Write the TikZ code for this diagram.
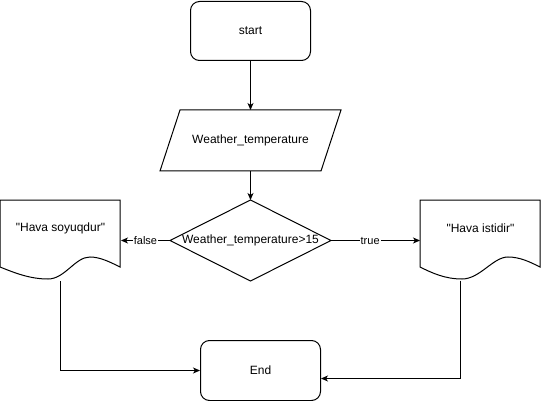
\documentclass[tikz,border=0pt]{standalone}
\usepackage{fontspec}
\setmainfont{Liberation Sans}
\newfontfamily\plainsans{Liberation Sans}
\usetikzlibrary{arrows.meta,calc}
\begin{document}
\begin{tikzpicture}[x=1pt,y=-1pt,line width=1pt,
  >={Stealth[length=7pt,width=6pt,inset=2pt]},
  txt/.style={font=\plainsans\fontsize{12}{14}\selectfont},
  term/.style={draw,rounded corners=9pt,minimum width=120pt,minimum height=59pt,inner sep=0pt,txt},
  box/.style={inner sep=0pt,minimum width=#1},
  lbl/.style={fill=white,inner sep=1pt,font=\plainsans\fontsize{11}{13}\selectfont},
  doc/.style={inner sep=0pt,minimum width=120pt,minimum height=80pt}]
\useasboundingbox (0,0) rectangle (541,401);

\node[term] (start) at (250.5,31) {start};

\node[box=180pt,minimum height=60pt,txt] (inp) at (250.5,140.5) {Weather\_temperature};
\draw ($(inp.north west)+(20,0)$) -- (inp.north east) -- ($(inp.south east)+(-20,0)$) -- (inp.south west) -- cycle;

\node[box=160pt,minimum height=80pt,txt] (dec) at (250.5,240.5) {Weather\_temperature>15};
\draw (dec.north) -- (dec.east) -- (dec.south) -- (dec.west) -- cycle;

\node[doc] (ldoc) at (60.5,240.5) {};
\node[txt] (ldoct) at (60.5,228) {"Hava soyuqdur"};
\begin{scope}[shift={(ldoc.north west)}]
\draw (0,0) -- (120,0) -- (120,67) .. controls (110,62) and (100,57) .. (90,57)
  .. controls (75,57) and (65,79) .. (48,79) .. controls (30,79) and (15,73) .. (0,67) -- cycle;
\end{scope}

\node[doc] (rdoc) at (480.5,240.5) {};
\node[txt] (rdoct) at (480.5,228) {"Hava istidir"};
\begin{scope}[shift={(rdoc.north west)}]
\draw (0,0) -- (120,0) -- (120,67) .. controls (110,62) and (100,57) .. (88,57)
  .. controls (73,57) and (60,79) .. (42,79) .. controls (25,79) and (12,73) .. (0,67) -- cycle;
\end{scope}

\node[term,minimum height=60pt] (end) at (260.5,370.5) {End};

\coordinate (rexit) at (460.5,280.5);

\draw[->] (start) -- (inp);
\draw[->] (inp) -- (dec);
\draw[->] (dec.west) -- node[lbl] {false} (ldoc.east);
\draw[->] (dec.east) -- node[lbl,pos=0.44] {true} (rdoc.west);
\draw[->] (ldoc.south) |- (end.west);
\draw[->] (rexit) |- ($(end.east)+(0,8)$);
\end{tikzpicture}
\end{document}
